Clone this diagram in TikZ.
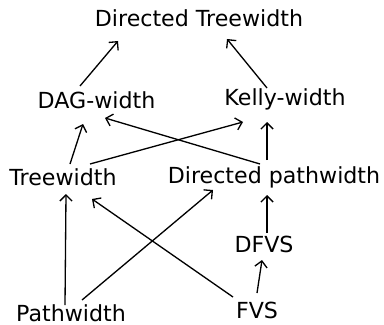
\documentclass[tikz,border=0pt]{standalone}
\usepackage{fontspec}
\setmainfont{DejaVu Sans}
\usetikzlibrary{arrows.meta}
\begin{document}
\begin{tikzpicture}[x=0.02cm, y=-0.02cm, line width=0.75pt,
    measure/.style={anchor=base, inner sep=0pt, font=\fontsize{12.6}{15}\selectfont},
    implies/.style={-{Straight Barb[length=3.5pt,width=7pt]}}]
        \useasboundingbox (0,0) rectangle (384,324);

        \node[measure] (dtw) at (199,27) {Directed Treewidth};
        \node[measure] (dag) at (96.5,109) {DAG-width};
        \node[measure] (kelly) at (285,106) {Kelly-width};
        \node[measure] (tw) at (63,185) {Treewidth};
        \node[measure] (dpw) at (274,183) {Directed pathwidth};
        \node[measure] (dfvs) at (264,252) {DFVS};
        \node[measure] (pw) at (71,321) {Pathwidth};
        \node[measure] (fvs) at (257,318) {FVS};

        % upper level
        \draw[implies] ([shift={(-16.5,-23)}]dag.base) -- ([shift={(-81,14)}]dtw.base);
        \draw[implies] ([shift={(-18,-18)}]kelly.base) -- ([shift={(28,12)}]dtw.base);

        % middle level
        \draw[implies] ([shift={(7,-21)}]tw.base) -- ([shift={(-13.5,15)}]dag.base);
        \draw[implies] ([shift={(27,-21)}]tw.base) -- ([shift={(-42,16)}]kelly.base);
        \draw[implies] ([shift={(-14,-19)}]dpw.base) -- ([shift={(8.5,9)}]dag.base);
        \draw[implies] ([shift={(-7,-23)}]dpw.base) -- ([shift={(-18,16)}]kelly.base);

        % lower level
        \draw[implies] ([shift={(3,-19)}]dfvs.base) -- ([shift={(-7,12)}]dpw.base);
        \draw[implies] ([shift={(0,-25)}]fvs.base) -- ([shift={(-2,8)}]dfvs.base);
        \draw[implies] ([shift={(-24,-21)}]fvs.base) -- ([shift={(29,14)}]tw.base);
        \draw[implies] ([shift={(-6,-16)}]pw.base) -- ([shift={(3,9)}]tw.base);
        \draw[implies] ([shift={(11,-21)}]pw.base) -- ([shift={(-61,7)}]dpw.base);
\end{tikzpicture}
\end{document}
